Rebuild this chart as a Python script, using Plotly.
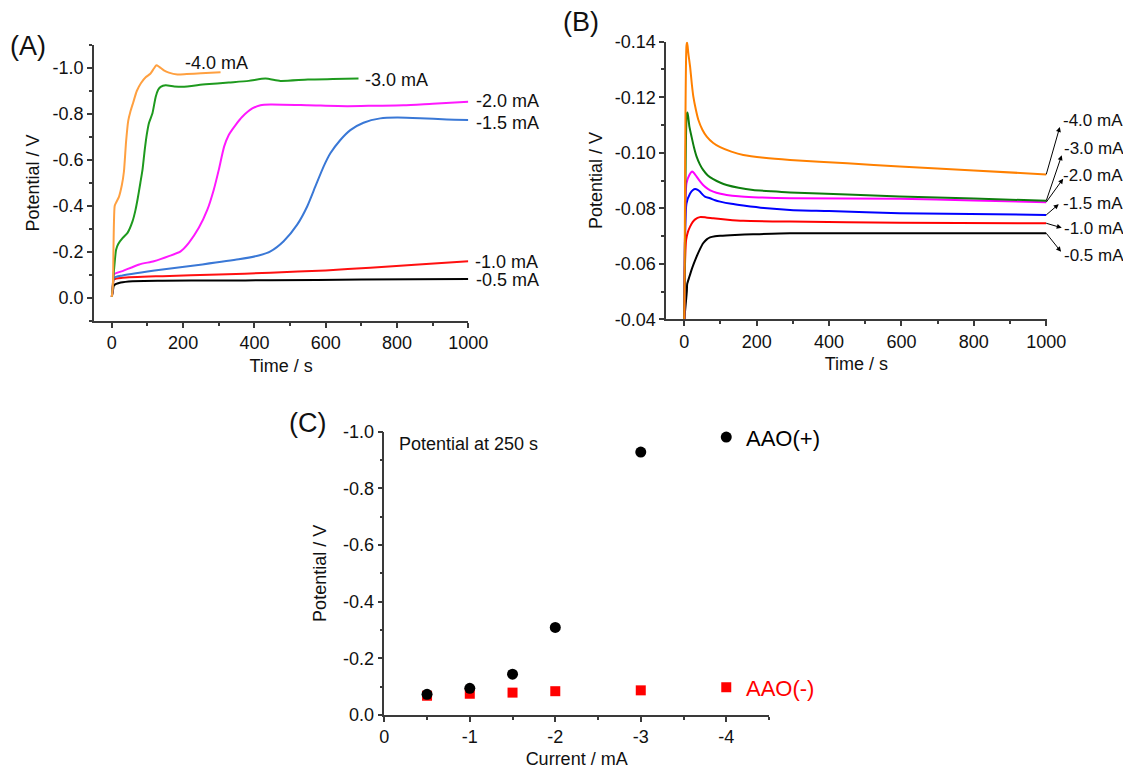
import plotly.graph_objects as go

W, H = 1123, 769
FONT = "Liberation Sans, Arial, sans-serif"
AXIS = "#3a3a3a"
TXT = "#111111"
FS = 18

# ---------------- (A) potential vs. time at each applied current ----------------
a_labels = ["-4.0 mA", "-3.0 mA", "-2.0 mA", "-1.5 mA", "-1.0 mA", "-0.5 mA"]
a_colors = ["#FFA040", "#1E9A1E", "#FF19FF", "#3A78D6", "#FF1010", "#000000"]

a_t_40 = [0, 3, 8, 12, 20, 28, 34, 40, 46, 52, 60, 70, 82, 95, 108, 118, 125, 133, 146, 160, 184, 210, 250, 305]
a_v_40 = [-0.005, -0.06, -0.40, -0.415, -0.44, -0.49, -0.55, -0.68, -0.77, -0.81, -0.85, -0.90, -0.935,
          -0.96, -0.975, -0.998, -1.012, -1.005, -0.99, -0.98, -0.972, -0.974, -0.977, -0.981]

a_t_30 = [0, 3, 6, 12, 18, 30, 44, 58, 66, 72, 80, 86, 92, 98, 104, 114, 123, 130, 137, 151, 175, 198,
          263, 328, 384, 431, 473, 550, 620, 692]
a_v_30 = [-0.005, -0.06, -0.12, -0.21, -0.235, -0.26, -0.283, -0.333, -0.38, -0.427, -0.50, -0.557, -0.64,
          -0.71, -0.76, -0.803, -0.874, -0.905, -0.918, -0.925, -0.92, -0.918, -0.929, -0.937, -0.944,
          -0.954, -0.944, -0.95, -0.952, -0.954]

a_t_20 = [0, 3, 6, 30, 77, 118, 160, 193, 216, 244, 268, 286, 300, 315, 328, 347, 366, 394, 417, 445,
          550, 660, 740, 818, 900, 1000]
a_v_20 = [-0.005, -0.06, -0.103, -0.117, -0.146, -0.160, -0.182, -0.203, -0.240, -0.305, -0.384, -0.471,
          -0.557, -0.658, -0.709, -0.752, -0.788, -0.824, -0.838, -0.841, -0.838, -0.834, -0.836, -0.838,
          -0.845, -0.853]

a_t_15 = [0, 3, 6, 30, 142, 254, 356, 412, 445, 482, 520, 548, 571, 594, 613, 641, 669, 706, 753, 800,
          865, 940, 1000]
a_v_15 = [-0.005, -0.05, -0.088, -0.098, -0.124, -0.146, -0.168, -0.185, -0.203, -0.247, -0.319, -0.398,
          -0.485, -0.571, -0.629, -0.687, -0.730, -0.762, -0.781, -0.785, -0.782, -0.776, -0.774]

a_t_10 = [0, 3, 6, 30, 142, 300, 445, 600, 725, 850, 1000]
a_v_10 = [-0.005, -0.05, -0.081, -0.088, -0.095, -0.102, -0.110, -0.120, -0.132, -0.145, -0.160]

a_t_05 = [0, 3, 6, 25, 58, 142, 300, 445, 700, 1000]
a_v_05 = [-0.005, -0.03, -0.055, -0.067, -0.073, -0.075, -0.076, -0.077, -0.080, -0.083]

a_times = [a_t_40, a_t_30, a_t_20, a_t_15, a_t_10, a_t_05]
a_volts = [a_v_40, a_v_30, a_v_20, a_v_15, a_v_10, a_v_05]

a_x_ticks = [0, 200, 400, 600, 800, 1000]
a_x_minor = [100, 300, 500, 700, 900]
a_y_ticks = [0.0, -0.2, -0.4, -0.6, -0.8, -1.0]
a_y_minor = [0.1, -0.1, -0.3, -0.5, -0.7, -0.9, -1.1]

# ---------------- (B) early potential response of the second membrane ----------------
b_labels = ["-4.0 mA", "-3.0 mA", "-2.0 mA", "-1.5 mA", "-1.0 mA", "-0.5 mA"]
b_colors = ["#FF8000", "#0E7E0E", "#FF00FF", "#0000FF", "#FF0000", "#000000"]

b_t_40 = [0, 1, 6, 8, 11, 16, 21, 25, 32, 39, 50, 62, 80, 99, 130, 163, 220, 292, 450, 595, 800, 1000]
b_v_40 = [-0.04, -0.06, -0.1385, -0.1397, -0.136, -0.131, -0.1245, -0.1202, -0.1155, -0.1118, -0.1083,
          -0.1058, -0.1035, -0.1020, -0.1004, -0.0992, -0.0982, -0.0974, -0.0962, -0.0950, -0.0936, -0.0922]

b_t_30 = [0, 2, 7, 9, 14, 20, 27, 34, 43, 52, 65, 80, 100, 117, 150, 190, 240, 292, 450, 595, 800, 1000]
b_v_30 = [-0.04, -0.07, -0.1140, -0.1145, -0.1095, -0.1058, -0.1018, -0.0986, -0.0958, -0.0938, -0.0918,
          -0.0905, -0.0892, -0.0884, -0.0874, -0.0866, -0.0861, -0.0857, -0.0850, -0.0842, -0.0835, -0.0827]

b_t_20 = [0, 2, 6, 14, 22, 28, 34, 43, 52, 65, 80, 100, 117, 150, 190, 292, 595, 800, 1000]
b_v_20 = [-0.04, -0.07, -0.089, -0.092, -0.0932, -0.0925, -0.0914, -0.0898, -0.0884, -0.0870, -0.0860,
          -0.0852, -0.0848, -0.0843, -0.0840, -0.0836, -0.0834, -0.0828, -0.0822]

b_t_15 = [0, 2, 6, 16, 24, 30, 37, 43, 50, 57, 71, 85, 99, 130, 163, 220, 292, 400, 595, 1000]
b_v_15 = [-0.04, -0.07, -0.0817, -0.0853, -0.0866, -0.0869, -0.0866, -0.0860, -0.0850, -0.0842, -0.0836,
          -0.0829, -0.0824, -0.0816, -0.0810, -0.0801, -0.0794, -0.0790, -0.0782, -0.0776]

b_t_10 = [0, 2, 5, 10, 16, 23, 30, 43, 60, 80, 120, 163, 292, 595, 1000]
b_v_10 = [-0.04, -0.06, -0.0686, -0.0715, -0.0734, -0.0750, -0.0760, -0.0768, -0.0767, -0.0764, -0.0759,
          -0.0755, -0.0752, -0.0748, -0.0746]

b_t_05 = [0, 7, 8, 14, 20, 27, 34, 43, 52, 62, 71, 85, 99, 140, 190, 292, 595, 1000]
b_v_05 = [-0.04, -0.05, -0.0527, -0.0553, -0.0578, -0.0603, -0.0626, -0.0652, -0.0674, -0.0688, -0.0695,
          -0.0699, -0.0701, -0.0704, -0.0706, -0.0710, -0.0710, -0.0710]

b_times = [b_t_40, b_t_30, b_t_20, b_t_15, b_t_10, b_t_05]
b_volts = [b_v_40, b_v_30, b_v_20, b_v_15, b_v_10, b_v_05]

b_x_ticks = [0, 200, 400, 600, 800, 1000]
b_x_minor = [100, 300, 500, 700, 900]
b_y_ticks = [-0.04, -0.06, -0.08, -0.10, -0.12, -0.14]
b_y_minor = [-0.05, -0.07, -0.09, -0.11, -0.13]

# ---------------- (C) potential at 250 s vs. applied current ----------------
c_current = [-0.5, -1.0, -1.5, -2.0, -3.0, -4.0]
c_aao_pos = [-0.073, -0.094, -0.144, -0.309, -0.928, -0.981]
c_aao_neg = [-0.068, -0.075, -0.079, -0.084, -0.087, -0.098]

c_x_ticks = [0, -1, -2, -3, -4]
c_x_minor = [-0.5, -1.5, -2.5, -3.5, -4.5]
c_y_ticks = [0.0, -0.2, -0.4, -0.6, -0.8, -1.0]
c_y_minor = [-0.1, -0.3, -0.5, -0.7, -0.9]


def px(x):
    return x / W


def py(y):
    return 1 - y / H


def fmt(v, nd):
    s = f"{v:.{nd}f}"
    return s[1:] if s.startswith("-") and float(s) == 0 else s


def axis_style(ticks, ticktext, minor, title, standoff, **kw):
    d = dict(
        showline=True, linecolor=AXIS, linewidth=1.5,
        ticks="outside", ticklen=5, tickwidth=1.5, tickcolor=AXIS,
        tickmode="array", tickvals=ticks, ticktext=ticktext,
        minor=dict(ticks="outside", ticklen=3, tickwidth=1.5, tickcolor=AXIS,
                   tickmode="array", tickvals=minor, showgrid=False),
        showgrid=False, zeroline=False, automargin=False, fixedrange=True,
        tickfont=dict(family=FONT, size=FS, color=TXT),
        title=dict(text=title, font=dict(family=FONT, size=FS, color=TXT), standoff=standoff),
    )
    d.update(kw)
    return d


def curve(t, v, col, name, xa, ya):
    return go.Scatter(x=t, y=v, mode="lines", name=name,
                      line=dict(color=col, width=2, shape="spline", smoothing=0.6),
                      xaxis=xa, yaxis=ya)


fig = go.Figure()

# (A) curves, low current drawn first so the fast-rising traces stay on top
for lab, t, v, col in reversed(list(zip(a_labels, a_times, a_volts, a_colors))):
    fig.add_trace(curve(t, v, col, lab, "x", "y"))

# (B) curves
for lab, t, v, col in reversed(list(zip(b_labels, b_times, b_volts, b_colors))):
    fig.add_trace(curve(t, v, col, lab, "x2", "y2"))

# (C) points
fig.add_trace(go.Scatter(x=c_current, y=c_aao_neg, mode="markers", name="AAO(-)",
                         marker=dict(symbol="square", size=10, color="#FF0000"),
                         xaxis="x3", yaxis="y3", cliponaxis=False))
fig.add_trace(go.Scatter(x=c_current, y=c_aao_pos, mode="markers", name="AAO(+)",
                         marker=dict(symbol="circle", size=11, color="#000000"),
                         xaxis="x3", yaxis="y3", cliponaxis=False))

ann = []

# curve labels in (A)
a_label_pos = [(183, 62.7), (363, 80), (474, 101), (474, 123), (473, 262), (474, 280)]
for lab, (x, y) in zip(a_labels, a_label_pos):
    ann.append(dict(x=px(x), y=py(y), xref="paper", yref="paper", text=lab, showarrow=False,
                    xanchor="left", yanchor="middle", font=dict(family=FONT, size=FS, color=TXT)))

# curve labels in (B) with arrows from each curve end
b_label_pos = [(1061, 120.7), (1062, 148.3), (1061, 175), (1061, 203.3), (1062, 228.3), (1062, 255)]
b_arrow_tail = [(14, -49), (16, -47), (18, -25), (14, -12), (17, 5), (16, 20)]
for lab, (x, y), t, v, (dx, dy) in zip(b_labels, b_label_pos, b_times, b_volts, b_arrow_tail):
    ann.append(dict(x=px(x), y=py(y), xref="paper", yref="paper", text=lab, showarrow=False,
                    xanchor="left", yanchor="middle", font=dict(family=FONT, size=FS - 1, color=TXT)))
    ann.append(dict(x=t[-1], y=v[-1], xref="x2", yref="y2", ax=dx, ay=dy, text="",
                    showarrow=True, arrowside="start", startarrowhead=2, startarrowsize=1.0,
                    arrowwidth=1, arrowcolor="#000000"))

# (C) notes
ann.append(dict(x=px(397), y=py(444), xref="paper", yref="paper", text="Potential at 250 s",
                showarrow=False, xanchor="left", yanchor="middle",
                font=dict(family=FONT, size=FS, color=TXT)))
ann.append(dict(x=px(744), y=py(439), xref="paper", yref="paper", text="AAO(+)",
                showarrow=False, xanchor="left", yanchor="middle",
                font=dict(family=FONT, size=22, color="#000000")))
ann.append(dict(x=px(744), y=py(688), xref="paper", yref="paper", text="AAO(-)",
                showarrow=False, xanchor="left", yanchor="middle",
                font=dict(family=FONT, size=22, color="#FF0000")))

# panel letters
for txt, (x, y) in zip(["(A)", "(B)", "(C)"], [(28, 46), (581, 22), (307, 423)]):
    ann.append(dict(x=px(x), y=py(y), xref="paper", yref="paper", text=txt, showarrow=False,
                    xanchor="center", yanchor="middle", font=dict(family=FONT, size=27, color=TXT)))

fig.update_layout(
    width=W, height=H,
    margin=dict(l=0, r=0, t=0, b=0),
    paper_bgcolor="white", plot_bgcolor="white",
    showlegend=False,
    font=dict(family=FONT, color=TXT),
    annotations=ann,
    xaxis=axis_style(a_x_ticks, [str(v) for v in a_x_ticks], a_x_minor, "Time / s", 7,
                     domain=[px(94), px(468.3)], range=[-50, 1000], anchor="y"),
    yaxis=axis_style(a_y_ticks, [fmt(v, 1) for v in a_y_ticks], a_y_minor, "Potential / V", 8,
                     domain=[py(321), py(45)], range=[0.1, -1.1], anchor="x"),
    xaxis2=axis_style(b_x_ticks, [str(v) for v in b_x_ticks], b_x_minor, "Time / s", 7,
                      domain=[px(666.2), px(1046.6)], range=[-50, 1001], anchor="y2"),
    yaxis2=axis_style(b_y_ticks, [fmt(v, 2) for v in b_y_ticks], b_y_minor, "Potential / V", 8,
                      domain=[py(319.3), py(41.7)], range=[-0.04, -0.14], anchor="x2"),
    xaxis3=axis_style(c_x_ticks, [fmt(v, 0) for v in c_x_ticks], c_x_minor, "Current / mA", 7,
                      domain=[px(384.3), px(769)], range=[0, -4.5], anchor="y3"),
    yaxis3=axis_style(c_y_ticks, [fmt(v, 1) for v in c_y_ticks], c_y_minor, "Potential / V", 12,
                      domain=[py(715), py(431.7)], range=[0, -1.0], anchor="x3"),
)

fig.write_html("out.html")
